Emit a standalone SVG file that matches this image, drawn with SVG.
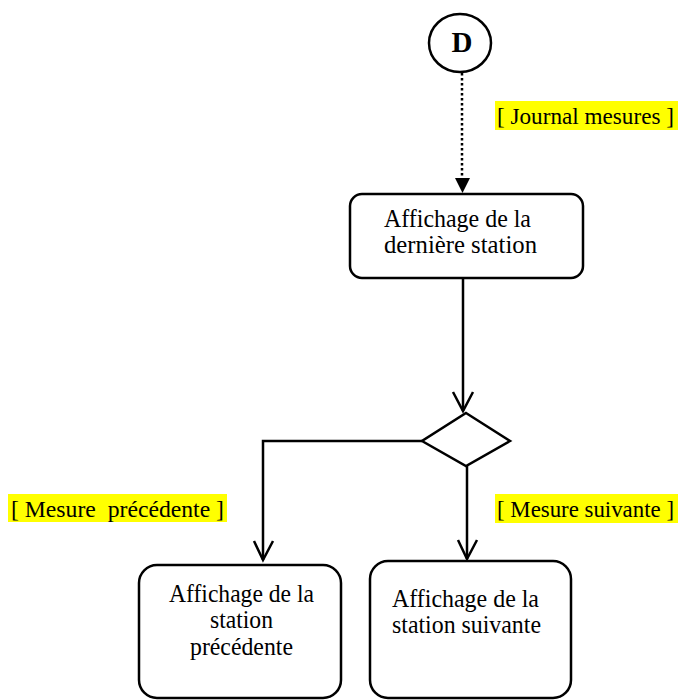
<svg xmlns="http://www.w3.org/2000/svg" width="683" height="700" viewBox="0 0 683 700">
<style>
.node{fill:#fff;stroke:#000;stroke-width:2.5}
.t{font-family:"Liberation Serif","Times New Roman",serif;font-size:25px;fill:#000}
.l{font-family:"Liberation Serif","Times New Roman",serif;font-size:23.5px;fill:#000}
.hl{fill:#ffff00}
.ln{fill:none;stroke:#000;stroke-width:2.5}
</style>
<rect width="683" height="700" fill="#fff"/>
<g id="connectors">
<line class="ln" x1="462" y1="73" x2="462" y2="180" stroke-dasharray="2.5,2.5"/>
<polygon points="455,178 470,178 462.5,193" fill="#000"/>
<line class="ln" x1="463" y1="278" x2="463" y2="411"/>
<polyline class="ln" points="453,392 463,411 473,392"/>
<polyline class="ln" points="422,441 263,441 263,560"/>
<polyline class="ln" points="254,541 263,560 273,541"/>
<line class="ln" x1="467" y1="466" x2="467" y2="559"/>
<polyline class="ln" points="458,540 467,559 477,540"/>
</g>
<g id="labels">
<rect class="hl" x="495" y="101" width="183" height="29"/>
<text class="l" x="497" y="124" textLength="177" lengthAdjust="spacingAndGlyphs">[ Journal mesures ]</text>
<rect class="hl" x="8" y="494" width="219" height="28"/>
<text class="l" x="11" y="517" textLength="213" lengthAdjust="spacingAndGlyphs" xml:space="preserve">[ Mesure  précédente ]</text>
<rect class="hl" x="495" y="494" width="183" height="29"/>
<text class="l" x="497" y="517" textLength="177" lengthAdjust="spacingAndGlyphs">[ Mesure suivante ]</text>
</g>
<g id="start">
<ellipse class="node" cx="460" cy="43" rx="31" ry="29"/>
<text x="462" y="52" text-anchor="middle" style="font-family:'Liberation Serif','Times New Roman',serif;font-size:29px;font-weight:bold">D</text>
</g>
<g id="derniere">
<rect class="node" x="350" y="194" width="233" height="84" rx="12"/>
<text class="t" x="384" y="227" textLength="147" lengthAdjust="spacingAndGlyphs">Affichage de la</text>
<text class="t" x="384" y="253" textLength="153" lengthAdjust="spacingAndGlyphs">dernière station</text>
</g>
<g id="decision">
<polygon class="node" points="466,413 510,441 466,466 422,441"/>
</g>
<g id="precedente">
<rect class="node" x="139" y="565" width="202" height="133" rx="18"/>
<text class="t" x="169" y="602" textLength="145" lengthAdjust="spacingAndGlyphs">Affichage de la</text>
<text class="t" x="210" y="628" textLength="63" lengthAdjust="spacingAndGlyphs">station</text>
<text class="t" x="190" y="655" textLength="103" lengthAdjust="spacingAndGlyphs">précédente</text>
</g>
<g id="suivante">
<rect class="node" x="370" y="561" width="201" height="137" rx="18"/>
<text class="t" x="392" y="607" textLength="147" lengthAdjust="spacingAndGlyphs">Affichage de la</text>
<text class="t" x="392" y="633" textLength="149" lengthAdjust="spacingAndGlyphs">station suivante</text>
</g>
</svg>
